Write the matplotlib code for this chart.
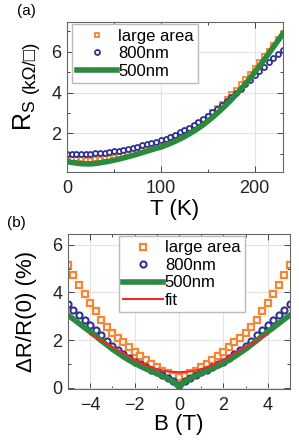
import numpy as np
from matplotlib import pyplot as plt
from matplotlib.ticker import MultipleLocator

plt.rcParams['font.family'] = ['Liberation Sans', 'DejaVu Sans']

# panel (a): sheet resistance vs temperature
T = np.arange(0, 231, 5)
rs_large = [0.78, 0.76, 0.74, 0.73, 0.72, 0.72, 0.73, 0.75, 0.78, 0.82, 0.86, 0.9,
            0.95, 1.01, 1.07, 1.13, 1.2, 1.27, 1.35, 1.43, 1.51, 1.6, 1.7, 1.81,
            1.93, 2.06, 2.2, 2.35, 2.51, 2.68, 2.86, 3.05, 3.25, 3.46, 3.68, 3.91,
            4.15, 4.4, 4.66, 4.93, 5.2, 5.48, 5.77, 6.06, 6.35, 6.63, 6.9]
rs_800 = [1.0, 1.0, 1.0, 1.0, 1.0, 1.01, 1.02, 1.04, 1.06, 1.09, 1.12, 1.16,
          1.2, 1.25, 1.3, 1.35, 1.41, 1.47, 1.53, 1.6, 1.67, 1.75, 1.84, 1.94,
          2.05, 2.16, 2.28, 2.41, 2.55, 2.7, 2.86, 3.03, 3.2, 3.39, 3.58, 3.78,
          3.98, 4.19, 4.4, 4.62, 4.84, 5.05, 5.27, 5.48, 5.7, 5.9, 6.1]
rs_500 = [0.62, 0.58, 0.55, 0.52, 0.51, 0.51, 0.53, 0.56, 0.6, 0.64, 0.69, 0.74,
          0.8, 0.86, 0.92, 0.99, 1.06, 1.13, 1.2, 1.27, 1.33, 1.42, 1.51, 1.61,
          1.72, 1.84, 1.97, 2.11, 2.26, 2.42, 2.6, 2.79, 2.99, 3.2, 3.42, 3.65,
          3.9, 4.15, 4.42, 4.7, 5.0, 5.3, 5.6, 5.92, 6.24, 6.56, 6.88]

# panel (b): magnetoresistance, read for B >= 0 (curves are symmetric)
B_half = np.arange(0, 5.01, 0.25)
mr_large_half = [0.45, 0.5, 0.6, 0.72, 0.85, 1.0, 1.15, 1.32, 1.5, 1.7, 1.9,
                 2.1, 2.3, 2.55, 2.85, 3.2, 3.55, 3.92, 4.3, 4.72, 5.15]
mr_800_half = [0.1, 0.3, 0.43, 0.54, 0.65, 0.75, 0.86, 0.98, 1.1, 1.25, 1.4,
               1.57, 1.75, 1.97, 2.2, 2.43, 2.65, 2.85, 3.05, 3.27, 3.5]
mr_500_half = [0.03, 0.25, 0.38, 0.5, 0.6, 0.7, 0.8, 0.91, 1.03, 1.16, 1.3,
               1.46, 1.62, 1.8, 1.98, 2.17, 2.35, 2.52, 2.7, 2.88, 3.05]
B_fit_half = np.arange(0, 4.01, 0.5)
fit_half = [0.65, 0.68, 0.78, 0.95, 1.18, 1.45, 1.72, 1.98, 2.25]


def mirror(x, y):
    x = np.asarray(x); y = np.asarray(y)
    return np.concatenate([-x[::-1], x[1:]]), np.concatenate([y[::-1], y[1:]])


B, mr_large = mirror(B_half, mr_large_half)
_, mr_800 = mirror(B_half, mr_800_half)
_, mr_500 = mirror(B_half, mr_500_half)
B_fit, mr_fit = mirror(B_fit_half, fit_half)

orange = '#f58634'
navy = '#2e3192'
green = '#2b8a3e'
red = '#ee2a2a'

fig = plt.figure(figsize=(2.99, 4.44), dpi=100)
ax1 = fig.add_axes([0.224, 0.613, 0.722, 0.337])
ax2 = fig.add_axes([0.227, 0.124, 0.743, 0.349])


def style(ax):
    ax.grid(True, color='#e3e3e3', linewidth=0.8)
    ax.set_axisbelow(True)
    ax.tick_params(which='both', direction='in', top=True, right=True,
                   labelsize=13, colors='#444444', labelcolor='#222222')
    ax.tick_params(which='major', length=4, width=0.7)
    ax.tick_params(which='minor', length=2.5, width=0.7)
    ax.tick_params(axis='x', which='major', pad=6)
    ax.tick_params(axis='y', which='major', pad=4)
    for s in ax.spines.values():
        s.set_color('#666666')
        s.set_linewidth(0.8)


ax1.plot(T, rs_large, 's', ms=3.2, mfc='white', mec=orange, mew=1.3, label='large area')
ax1.plot(T, rs_800, 'o', ms=3.6, mfc='white', mec=navy, mew=1.3, label='800nm')
ax1.plot(T, rs_500, '-', color=green, lw=4, label='500nm')
ax1.set_xlim(0, 230)
ax1.set_ylim(0.12, 7.45)
ax1.xaxis.set_major_locator(MultipleLocator(100))
ax1.xaxis.set_minor_locator(MultipleLocator(50))
ax1.yaxis.set_major_locator(MultipleLocator(2))
ax1.yaxis.set_minor_locator(MultipleLocator(1))
style(ax1)
ax1.set_xlabel('T (K)', fontsize=16, labelpad=1)
ax1.legend(loc='upper left', bbox_to_anchor=(0.025, 0.985), fontsize=12,
           handlelength=2.4, handletextpad=0.1, borderpad=0.25, labelspacing=0.15,
           fancybox=False, edgecolor='#bbbbbb', framealpha=1, borderaxespad=0)
fig.text(0.083, 0.74, r'R$_\mathregular{S}$', rotation=90, fontsize=18,
         ha='center', va='center')
fig.text(0.1, 0.85, '(kΩ/□)', rotation=90, fontsize=13.5,
         ha='center', va='center')
fig.text(0.057, 0.975, '(a)', fontsize=11, ha='left', va='center')

ax2.plot(B, mr_large, 's', ms=4.6, mfc='white', mec=orange, mew=1.6, label='large area')
ax2.plot(B, mr_800, 'o', ms=4.4, mfc='white', mec=navy, mew=1.5, label='800nm')
ax2.plot(B, mr_500, '-', color=green, lw=4, label='500nm')
ax2.plot(B_fit, mr_fit, '-', color=red, lw=1.5, label='fit')
ax2.set_xlim(-5, 5)
ax2.set_ylim(-0.05, 6.45)
ax2.xaxis.set_major_locator(MultipleLocator(2))
ax2.xaxis.set_minor_locator(MultipleLocator(1))
ax2.yaxis.set_major_locator(MultipleLocator(2))
ax2.yaxis.set_minor_locator(MultipleLocator(1))
style(ax2)
ax2.set_xlabel('B (T)', fontsize=16, labelpad=0)
ax2.set_ylabel('ΔR/R(0) (%)', fontsize=16)
ax2.yaxis.set_label_coords(-0.14, 0.5)
ax2.legend(loc='upper left', bbox_to_anchor=(0.23, 0.985), fontsize=12,
           handlelength=2.4, handletextpad=0.1, borderpad=0.25, labelspacing=0.15,
           fancybox=False, edgecolor='#bbbbbb', framealpha=1, borderaxespad=0)
fig.text(0.025, 0.497, '(b)', fontsize=11, ha='left', va='center')

fig.savefig('out.png', dpi=100)
